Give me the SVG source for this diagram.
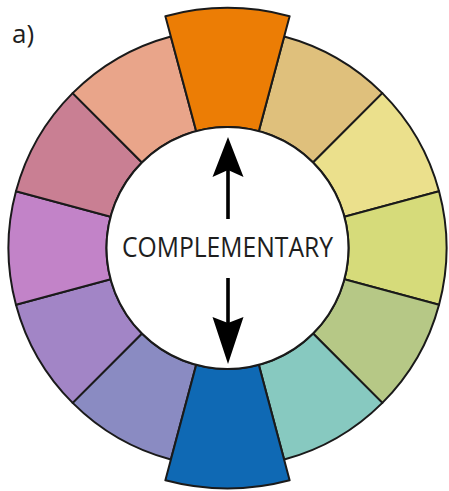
<svg xmlns="http://www.w3.org/2000/svg" width="449" height="491" viewBox="0 0 449 491">
<style>
.seg{stroke:#1a1a1a;stroke-width:2;stroke-linejoin:round}
.lbl{font-family:"Open Sans","Noto Sans",sans-serif;fill:#1e1e1e}
.arrow{fill:#000}
</style>
<rect width="449" height="491" fill="#fff"/>
<text id="label-a" class="lbl" x="12" y="43" font-size="26">a)</text>
<g id="wheel">
<g id="seg-tan"><path class="seg" fill="#DFC07C" d="M258.82,131.12 L284.18,36.46 A219,219 0 0 1 382.36,93.14 L313.06,162.44 A121,121 0 0 0 258.82,131.12 Z"/></g>
<g id="seg-lightyellow"><path class="seg" fill="#EBE08C" d="M313.06,162.44 L382.36,93.14 A219,219 0 0 1 439.04,191.32 L344.38,216.68 A121,121 0 0 0 313.06,162.44 Z"/></g>
<g id="seg-yellowgreen"><path class="seg" fill="#D6DB7A" d="M344.38,216.68 L439.04,191.32 A219,219 0 0 1 439.04,304.68 L344.38,279.32 A121,121 0 0 0 344.38,216.68 Z"/></g>
<g id="seg-green"><path class="seg" fill="#B6C886" d="M344.38,279.32 L439.04,304.68 A219,219 0 0 1 382.36,402.86 L313.06,333.56 A121,121 0 0 0 344.38,279.32 Z"/></g>
<g id="seg-teal"><path class="seg" fill="#87C9C0" d="M313.06,333.56 L382.36,402.86 A219,219 0 0 1 284.18,459.54 L258.82,364.88 A121,121 0 0 0 313.06,333.56 Z"/></g>
<g id="seg-slate"><path class="seg" fill="#8A8BC2" d="M196.18,364.88 L170.82,459.54 A219,219 0 0 1 72.64,402.86 L141.94,333.56 A121,121 0 0 0 196.18,364.88 Z"/></g>
<g id="seg-purple"><path class="seg" fill="#A285C6" d="M141.94,333.56 L72.64,402.86 A219,219 0 0 1 15.96,304.68 L110.62,279.32 A121,121 0 0 0 141.94,333.56 Z"/></g>
<g id="seg-violet"><path class="seg" fill="#C283C8" d="M110.62,279.32 L15.96,304.68 A219,219 0 0 1 15.96,191.32 L110.62,216.68 A121,121 0 0 0 110.62,279.32 Z"/></g>
<g id="seg-rose"><path class="seg" fill="#C97F93" d="M110.62,216.68 L15.96,191.32 A219,219 0 0 1 72.64,93.14 L141.94,162.44 A121,121 0 0 0 110.62,216.68 Z"/></g>
<g id="seg-salmon"><path class="seg" fill="#E9A58A" d="M141.94,162.44 L72.64,93.14 A219,219 0 0 1 170.82,36.46 L196.18,131.12 A121,121 0 0 0 141.94,162.44 Z"/></g>
<g id="seg-orange"><path class="seg" fill="#EC7D05" d="M196.18,131.12 L165.38,16.18 A240,240 0 0 1 289.62,16.18 L258.82,131.12 A121,121 0 0 0 196.18,131.12 Z"/></g>
<g id="seg-blue"><path class="seg" fill="#0F69B4" d="M258.82,364.88 L289.62,480.3 A241,241 0 0 1 165.38,480.3 L196.18,364.88 A121,121 0 0 0 258.82,364.88 Z"/></g>
<g id="center"><circle cx="227.5" cy="248" r="121" fill="#fff" stroke="#1a1a1a" stroke-width="2"/></g>
</g>
<g id="connectors">
<rect class="arrow" x="226.2" y="168" width="3.6" height="51"/>
<path class="arrow" d="M228,137 L243.5,177 L228,170 L212.5,177 Z"/>
<rect class="arrow" x="226.2" y="278" width="3.6" height="46"/>
<path class="arrow" d="M228,364 L212.5,317 L228,323 L243.5,317 Z"/>
</g>
<text id="label-complementary" class="lbl" x="227.5" y="256.5" font-size="27.5" text-anchor="middle" textLength="211" lengthAdjust="spacingAndGlyphs">COMPLEMENTARY</text>
</svg>
